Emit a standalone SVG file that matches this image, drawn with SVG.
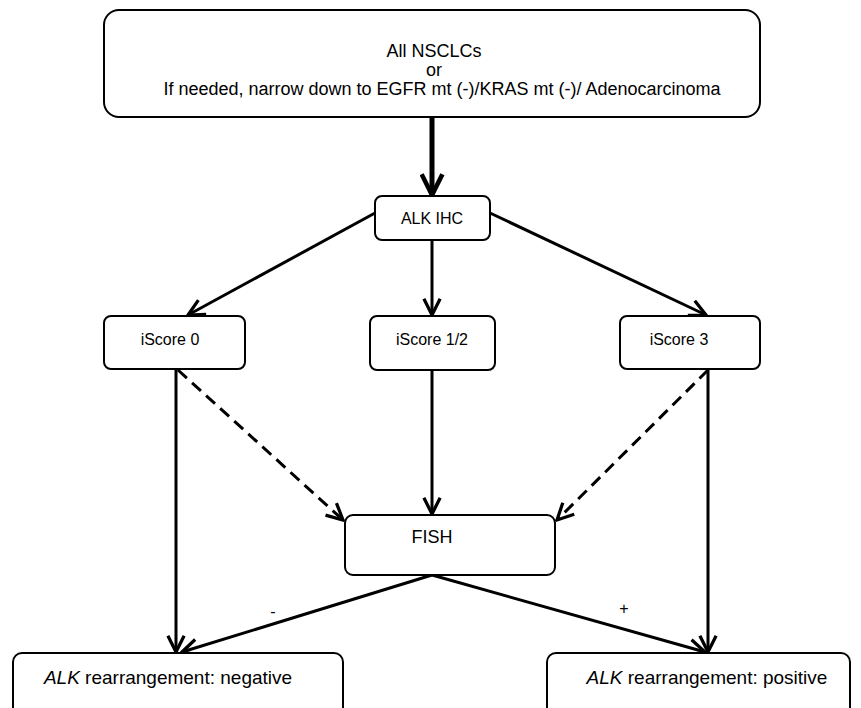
<svg xmlns="http://www.w3.org/2000/svg" width="861" height="708" viewBox="0 0 861 708">
<style>
.box{fill:#fff;stroke:#000;stroke-width:2}
.t{font-family:"Liberation Sans",Arial,sans-serif;font-size:16px;fill:#000;text-anchor:middle}
.big{font-size:18px}
.bot{font-size:19px}
.c{fill:none;stroke:#000;stroke-width:3;marker-end:url(#ah)}
.d{stroke-dasharray:12,7}
</style>
<defs>
<marker id="ah" viewBox="0 0 12 12" refX="11" refY="6" markerWidth="6.5" markerHeight="6.5" orient="auto" markerUnits="strokeWidth">
<path d="M1,1 L11,6 L1,11" fill="none" stroke="#000" stroke-width="2"/>
</marker>
<marker id="ahb" viewBox="0 0 12 12" refX="11" refY="6" markerWidth="5" markerHeight="5" orient="auto" markerUnits="strokeWidth">
<path d="M1,1 L11,6 L1,11" fill="none" stroke="#000" stroke-width="2.2"/>
</marker>
</defs>
<rect width="861" height="708" fill="#fff"/>
<g id="connectors">
<line x1="432" y1="117" x2="432" y2="195" fill="none" stroke="#000" stroke-width="5" marker-end="url(#ahb)"/>
<line class="c" x1="375" y1="213" x2="188" y2="315"/>
<line class="c" x1="432" y1="240" x2="432" y2="315"/>
<line class="c" x1="490" y1="213" x2="706" y2="315"/>
<line class="c" x1="176" y1="370" x2="176" y2="652"/>
<line class="c d" x1="178" y1="370" x2="343" y2="520"/>
<line class="c" x1="432" y1="370" x2="432" y2="514"/>
<line class="c d" x1="708" y1="370" x2="557" y2="520"/>
<line class="c" x1="708" y1="370" x2="708" y2="652"/>
<line class="c" x1="432" y1="575" x2="182" y2="652"/>
<line class="c" x1="432" y1="575" x2="705" y2="652"/>
<text class="t" x="273" y="617">-</text>
<text class="t" x="624" y="614">+</text>
</g>
<g id="top">
<rect class="box" x="104" y="10" width="656" height="107" rx="15"/>
<text class="t big" x="434" y="57">All NSCLCs</text>
<text class="t big" x="434" y="76">or</text>
<text class="t big" x="442" y="95">If needed, narrow down to EGFR mt (-)/KRAS mt (-)/ Adenocarcinoma</text>
</g>
<g id="alkihc">
<rect class="box" x="375" y="196" width="115" height="44" rx="7"/>
<text class="t" x="432" y="224">ALK IHC</text>
</g>
<g id="iscore0">
<rect class="box" x="104" y="316" width="141" height="53" rx="7"/>
<text class="t" x="170" y="345">iScore 0</text>
</g>
<g id="iscore12">
<rect class="box" x="370" y="316" width="125" height="54" rx="7"/>
<text class="t" x="432" y="345">iScore 1/2</text>
</g>
<g id="iscore3">
<rect class="box" x="620" y="316" width="140" height="53" rx="7"/>
<text class="t" x="679" y="345">iScore 3</text>
</g>
<g id="fish">
<rect class="box" x="345" y="515" width="210" height="60" rx="8"/>
<text class="t big" x="432" y="543">FISH</text>
</g>
<g id="negative">
<rect class="box" x="13" y="653" width="330" height="70" rx="9"/>
<text class="t bot" x="168" y="684"><tspan font-style="italic">ALK</tspan> rearrangement: negative</text>
</g>
<g id="positive">
<rect class="box" x="547" y="653" width="303" height="70" rx="9"/>
<text class="t bot" x="707" y="684"><tspan font-style="italic">ALK</tspan> rearrangement: positive</text>
</g>
</svg>
